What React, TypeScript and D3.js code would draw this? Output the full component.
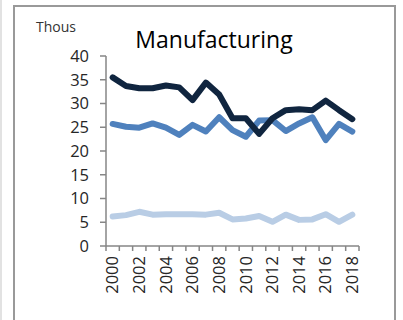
import React from "react";
import * as d3 from "d3";

const years = ["2000","2001","2002","2003","2004","2005","2006","2007","2008","2009","2010","2011","2012","2013","2014","2015","2016","2017","2018"];
const seriesDark = [35.5,33.7,33.2,33.2,33.8,33.4,30.7,34.4,31.9,26.9,26.9,23.6,26.9,28.6,28.8,28.6,30.6,28.6,26.7];
const seriesMid = [25.7,25.1,24.9,25.8,24.9,23.4,25.5,24.1,27.1,24.4,23.0,26.4,26.5,24.2,25.8,27.1,22.3,25.7,24.1];
const seriesLight = [6.2,6.5,7.2,6.6,6.7,6.7,6.7,6.6,7.0,5.6,5.8,6.3,5.1,6.6,5.5,5.6,6.7,5.1,6.6];
const yTicks = [0,5,10,15,20,25,30,35,40];
const xLabels = ["2000","2002","2004","2006","2008","2010","2012","2014","2016","2018"];

export default function App() {
  const W = 403, H = 320;
  const x0 = 106, x1 = 359, y0 = 246, y1 = 56;
  const x = d3.scaleBand<string>().domain(years).range([x0, x1]);
  const y = d3.scaleLinear().domain([0, 40]).range([y0, y1]);
  const line = d3.line<number>()
    .x((_, i) => (x(years[i]) as number) + x.bandwidth() / 2)
    .y(d => y(d));
  const series = [
    { data: seriesLight, color: "#b9cde5" },
    { data: seriesMid, color: "#4f81bd" },
    { data: seriesDark, color: "#10253f" },
  ];
  const font = "'Open Sans', 'Noto Sans', sans-serif";
  const axisColor = "#868686";
  return (
    <svg width={W} height={H} style={{ position: "absolute", left: 0, top: 0 }}>
      <rect x={0} y={0} width={W} height={H} fill="#fff" />
      <line x1={1} y1={0} x2={1} y2={H} stroke="#d9d9d9" strokeWidth={1.5} />
      <rect x={14} y={6} width={381} height={H + 10} fill="none" stroke="#999" strokeWidth={2} />
      <text x={36} y={32} fontFamily={font} fontSize={14} fill="#333">Thous</text>
      <text x={214} y={48} fontFamily={font} fontSize={23} fill="#000" textAnchor="middle">Manufacturing</text>
      {yTicks.map(t => (
        <g key={t}>
          <line x1={x0 - 6} x2={x0} y1={y(t)} y2={y(t)} stroke={axisColor} strokeWidth={1.5} />
          <text x={89} y={y(t)} dy="0.35em" textAnchor="end" fontFamily={font} fontSize={16.5} fill="#262626">{t}</text>
        </g>
      ))}
      <line x1={x0} x2={x0} y1={y1} y2={y0} stroke={axisColor} strokeWidth={1.5} />
      <line x1={x0} x2={x1} y1={y0} y2={y0} stroke={axisColor} strokeWidth={1.5} />
      {years.concat(["end"]).map((_, i) => {
        const px = x0 + i * x.step();
        return <line key={i} x1={px} x2={px} y1={y0} y2={y0 + 5} stroke={axisColor} strokeWidth={1.5} />;
      })}
      {xLabels.map(l => {
        const cx = (x(l) as number) + x.bandwidth() / 2;
        return (
          <text key={l} transform={`translate(${cx},${y0 + 10}) rotate(-90)`} textAnchor="end" dy="0.35em"
            fontFamily={font} fontSize={16.5} fill="#262626">{l}</text>
        );
      })}
      {series.map((s, i) => (
        <path key={i} d={line(s.data) || ""} fill="none" stroke={s.color} strokeWidth={6} strokeLinejoin="round" strokeLinecap="round" />
      ))}
    </svg>
  );
}
